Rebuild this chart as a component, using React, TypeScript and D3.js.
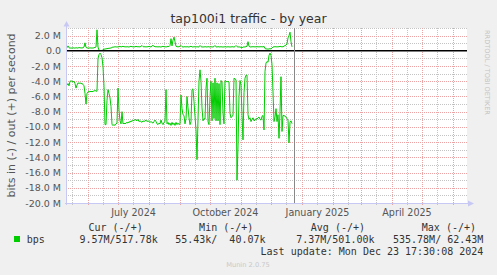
import React from "react";
import * as d3 from "d3";

// ---- data (values in M bits/s, one sample per day) ----
const startDate = "2024-05-11";
const inBps = [
  4.5, 4.3, 4.6, 4.0, 3.95, 4.0, 4.1, 4.0, 4.3, 4.9,
  4.5, 4.2, 4.3, 4.2, 4.3, 4.3, 4.4, 4.6, 5.6, 7.0,
  5.6, 5.4, 5.35, 5.4, 5.3, 5.4, 5.3, 5.3, 5.2, 5.3,
  5.3, 1.0, 0.5, 0.3, 0.5, 0.9, 2.1, 4.7, 9.7, 9.7,
  6.5, 5.1, 5.6, 6.2, 7.3, 9.7, 9.8, 9.7, 9.8, 9.6,
  9.5, 4.9, 7.8, 9.2, 9.6, 8.0, 9.6, 9.5, 9.6, 9.5,
  9.4, 9.5, 9.3, 9.4, 9.2, 9.3, 9.1, 9.2, 9.0, 9.1,
  9.2, 9.0, 9.3, 9.2, 9.3, 9.4, 9.2, 9.3, 9.2, 9.1,
  9.3, 9.2, 9.3, 9.4, 9.3, 9.4, 9.5, 9.3, 9.1, 9.3,
  9.6, 9.7, 9.5, 9.6, 9.1, 9.5, 9.7, 9.4, 9.3, 5.1,
  9.6, 9.4, 9.7, 9.5, 9.8, 9.4, 9.7, 9.5, 9.8, 9.4,
  9.7, 9.5, 9.7, 9.6, 5.8, 7.6, 8.4, 8.5, 9.6, 8.9,
  6.0, 7.5, 8.8, 9.7, 9.3, 5.1, 5.0, 6.7, 8.6, 10.4,
  14.3, 9.0, 4.0, 2.5, 4.0, 7.5, 9.2, 8.9, 9.0, 4.9,
  3.6, 9.3, 9.7, 6.0, 4.0, 9.2, 4.2, 8.9, 3.6, 9.2,
  4.2, 9.2, 4.3, 9.7, 3.9, 4.1, 8.2, 9.6, 3.9, 4.0,
  4.1, 4.0, 4.1, 8.2, 8.8, 8.6, 8.5, 3.6, 3.7, 3.8,
  17.0, 12.5, 6.0, 3.9, 4.5, 8.5, 11.7, 5.5, 3.6, 3.2,
  3.2, 8.4, 9.0, 8.8, 9.3, 9.0, 8.8, 9.2, 9.1, 8.9,
  9.0, 8.8, 8.7, 9.0, 9.1, 8.6, 8.5, 10.4, 2.7, 1.6,
  1.4, 1.5, 0.6, 0.3, 0.6, 1.8, 5.4, 9.3, 8.7, 7.6,
  9.3, 8.4, 11.5, 8.0, 3.4, 10.6, 8.5, 8.5, 8.6, 8.7,
  8.9, 9.1, 12.1, 9.4, 9.2, 9.57,
];
const outBps = [
  0.4, 0.65, 0.4, 0.35, 0.38, 0.35, 0.4, 0.37, 0.36, 0.4,
  0.38, 0.35, 0.45, 0.38, 0.4, 0.36, 0.42, 0.5, 1.05, 0.45,
  0.38, 0.36, 0.35, 0.4, 0.36, 0.38, 0.36, 0.4, 0.45, 0.5,
  2.76, 0.5, 0.08, 0.05, 0.04, 0.06, 0.1, 0.25, 0.2, 0.3,
  0.25, 0.35, 0.3, 0.38, 0.35, 0.45, 0.5, 0.48, 0.55, 0.5,
  0.52, 0.5, 0.55, 0.6, 0.5, 0.55, 0.6, 0.52, 0.55, 0.5,
  0.55, 0.52, 0.5, 0.55, 0.6, 0.52, 0.55, 0.5, 0.55, 0.58,
  0.55, 0.52, 0.55, 0.5, 0.6, 0.7, 0.55, 0.52, 0.55, 0.5,
  0.55, 0.52, 0.6, 0.55, 0.5, 0.65, 0.7, 0.6, 0.55, 0.52,
  0.55, 0.5, 0.55, 0.52, 0.5, 0.55, 0.6, 0.52, 0.55, 0.5,
  0.55, 0.6, 0.55, 0.7, 1.6, 0.65, 1.4, 1.8, 1.2, 0.6,
  0.55, 0.52, 0.55, 0.6, 0.7, 0.55, 0.5, 0.52, 0.55, 0.5,
  0.55, 0.52, 0.5, 0.55, 0.6, 0.52, 0.5, 0.55, 0.52, 0.5,
  0.55, 0.5, 0.52, 0.7, 0.55, 0.5, 0.52, 0.5, 0.55, 0.52,
  0.5, 0.55, 0.52, 0.5, 0.55, 0.5, 0.52, 0.55, 0.7, 0.52,
  0.5, 0.55, 0.52, 0.5, 0.55, 0.5, 0.52, 0.5, 0.55, 0.52,
  0.5, 0.55, 0.5, 0.52, 0.5, 0.55, 0.52, 0.5, 0.55, 0.7,
  0.55, 0.5, 0.52, 0.5, 0.45, 0.4, 0.5, 0.52, 0.5, 0.55,
  0.6, 1.2, 0.6, 0.52, 0.5, 0.55, 0.52, 0.55, 0.5, 0.55,
  0.52, 0.55, 0.5, 0.55, 0.52, 0.55, 0.5, 0.6, 0.3, 0.25,
  0.25, 0.22, 0.25, 0.28, 0.25, 0.35, 0.5, 0.55, 0.52, 0.55,
  0.5, 0.55, 0.52, 0.6, 0.55, 0.52, 0.55, 0.6, 0.7, 0.75,
  0.9, 1.7, 2.0, 2.45, 1.2, 0.52,
];
const yTicks = [2, 0, -2, -4, -6, -8, -10, -12, -14, -16, -18, -20];
const monthLabels = ["July 2024", "October 2024", "January 2025", "April 2025"];
const monthLabelDates = ["2024-07-01", "2024-10-01", "2025-01-01", "2025-04-01"];
const legendName = "bps";
const legendHeaders = ["Cur (-/+)", "Min (-/+)", "Avg (-/+)", "Max (-/+)"];
const legendValues = ["9.57M/517.78k", "55.43k/  40.07k", "7.37M/501.00k", "535.78M/ 62.43M"];
const lastUpdate = "Last update: Mon Dec 23 17:30:08 2024";
const lastUpdateTime = "2024-12-23T17:30:08Z";
const title = "tap100i1 traffic - by year";
const yLabel = "bits in (-) / out (+) per second";

// ---- layout ----
const W = 497, H = 275;
const PL = 67, PR = 467, PT = 28, PB = 203;
const headerEnds = [142.7, 253.3, 365, 476];
const valueEnds = [157.7, 265.5, 374.5, 483.3];

const parse = (s: string) => new Date(s + "T00:00:00Z");

export default function App() {
  const t0 = parse(startDate);
  const x = d3.scaleUtc().domain([parse("2024-05-11"), parse("2025-06-15")]).range([PL, PR]);
  const y = d3.scaleLinear().domain([-20, 3]).range([PB, PT]);

  const dates = inBps.map((_, i) => d3.utcDay.offset(t0, i));
  const lineGen = d3
    .line<[Date, number]>()
    .x((d) => x(d[0]))
    .y((d) => y(d[1]));
  const inPath = lineGen(dates.map((d, i) => [d, -inBps[i]] as [Date, number])) || "";
  const outPath = lineGen(dates.map((d, i) => [d, outBps[i]] as [Date, number])) || "";

  const [d0, d1] = x.domain();
  const months = d3.utcMonth.range(d3.utcMonth.ceil(d0), d1);
  const mids = d3.utcMonth
    .range(d3.utcMonth.floor(d0), d1)
    .map((m) => d3.utcDay.offset(m, 15))
    .filter((m) => m > d0 && m < d1);
  const yMinor = [3, ...d3.range(-19, 3, 1).filter((v) => v % 2 !== 0)];
  const yMajor = yTicks.filter((v) => v !== 0 && v !== -20);

  const gridMinor = "#c4c4c4";
  const gridMajor = "#eba3a3";
  const axisCol = "#c8c8f4";
  const now = new Date(lastUpdateTime);
  const fmt = (v: number) => (v === 0 ? "0.0" : `${v.toFixed(1)} M`);
  const ry = (v: number) => Math.round(y(v));
  const rx = (d: Date) => Math.round(x(d));

  return (
    <svg width={W} height={H} style={{ position: "absolute", left: 0, top: 0, background: "#f0f0f0" }}
      fontFamily="DejaVu Sans">
      <defs>
        <pattern id="hMinor" x={0} y={0} width={2} height={1} patternUnits="userSpaceOnUse">
          <rect x={0} y={0} width={1} height={1} fill={gridMinor} />
        </pattern>
        <pattern id="hMajor" x={0} y={0} width={2} height={1} patternUnits="userSpaceOnUse">
          <rect x={0} y={0} width={1} height={1} fill={gridMajor} />
        </pattern>
        <pattern id="vMinor" x={0} y={0} width={1} height={2} patternUnits="userSpaceOnUse">
          <rect x={0} y={0} width={1} height={1} fill={gridMinor} />
        </pattern>
        <pattern id="vMajor" x={0} y={0} width={1} height={2} patternUnits="userSpaceOnUse">
          <rect x={0} y={0} width={1} height={1} fill={gridMajor} />
        </pattern>
      </defs>
      <rect x={0} y={0} width={W} height={H} fill="#f0f0f0" />
      <rect x={PL} y={PT} width={PR - PL} height={PB - PT} fill="#ffffff" />
      {/* grid */}
      <g shapeRendering="crispEdges">
        {yMinor.map((v) => (
          <rect key={"ym" + v} x={PL - 2} y={ry(v)} width={PR - PL + 2} height={1} fill="url(#hMinor)" />
        ))}
        {mids.map((m) => (
          <rect key={"xm" + +m} x={rx(m)} y={PT} width={1} height={PB - PT + 3} fill="url(#vMinor)" />
        ))}
        {yMajor.map((v) => (
          <rect key={"yM" + v} x={PL - 2} y={ry(v)} width={PR - PL + 2} height={1} fill="url(#hMajor)" />
        ))}
        {months.map((m) => (
          <rect key={"xM" + +m} x={rx(m)} y={PT} width={1} height={PB - PT + 3} fill="url(#vMajor)" />
        ))}
      </g>
      {/* y tick labels */}
      {yTicks.map((v) => (
        <text key={"yl" + v} x={61} y={y(v) + 3.5} textAnchor="end" fontSize={9.5} fill="#555">
          {fmt(v)}
        </text>
      ))}
      {/* x labels, centred in the middle of the month */}
      {monthLabelDates.map((s, i) => {
        const m = parse(s);
        const mid = new Date((+m + +d3.utcMonth.offset(m, 1)) / 2);
        return (
          <text key={s} x={x(mid)} y={216} textAnchor="middle" fontSize={9.6} fill="#555">
            {monthLabels[i]}
          </text>
        );
      })}
      {/* data */}
      <path d={outPath} fill="none" stroke="#00cc00" strokeWidth={1} />
      <path d={inPath} fill="none" stroke="#00cc00" strokeWidth={1} />
      {/* zero line */}
      <line x1={PL} x2={PR} y1={y(0)} y2={y(0)} stroke="#000" strokeWidth={1.5} />
      {/* now line */}
      <line x1={rx(now) + 0.5} x2={rx(now) + 0.5} y1={PT} y2={PB} stroke="#888888" strokeWidth={1} />
      {/* axes */}
      <line x1={66.5} x2={66.5} y1={PB + 2} y2={24} stroke={axisCol} />
      <path d="M63.5,26.5 L69.5,26.5 L66.5,21 Z" fill={axisCol} />
      <line x1={PL - 2} x2={470} y1={203.5} y2={203.5} stroke={axisCol} />
      <path d="M468,200.5 L468,206.5 L474,203.5 Z" fill={axisCol} />
      {/* titles */}
      <text x={248.5} y={23} textAnchor="middle" fontSize={12.5} fill="#333">{title}</text>
      <text transform={`translate(15,${(PT + PB) / 2}) rotate(-90)`} textAnchor="middle" fontSize={11}
        fill="#555">{yLabel}</text>
      <text transform="translate(485,30) rotate(90)" fontSize={6.6} fill="#c4c4c4">RRDTOOL / TOBI OETIKER</text>
      {/* legend */}
      <rect x={14} y={236} width={6} height={6} fill="#00cc00" />
      <g fontFamily="DejaVu Sans Mono" fontSize={10} fill="#333">
        <text x={26.7} y={243}>{legendName}</text>
        {legendHeaders.map((h, i) => (
          <text key={h} x={headerEnds[i]} y={231} textAnchor="end" style={{ whiteSpace: "pre" }}>{h}</text>
        ))}
        {legendValues.map((v, i) => (
          <text key={v} x={valueEnds[i]} y={243} textAnchor="end" style={{ whiteSpace: "pre" }}>{v}</text>
        ))}
        <text x={483.3} y={255} textAnchor="end" style={{ whiteSpace: "pre" }}>{lastUpdate}</text>
      </g>
      <text x={248} y={267} textAnchor="middle" fontSize={6.7} fill="#c8c8c8">Munin 2.0.75</text>
    </svg>
  );
}
